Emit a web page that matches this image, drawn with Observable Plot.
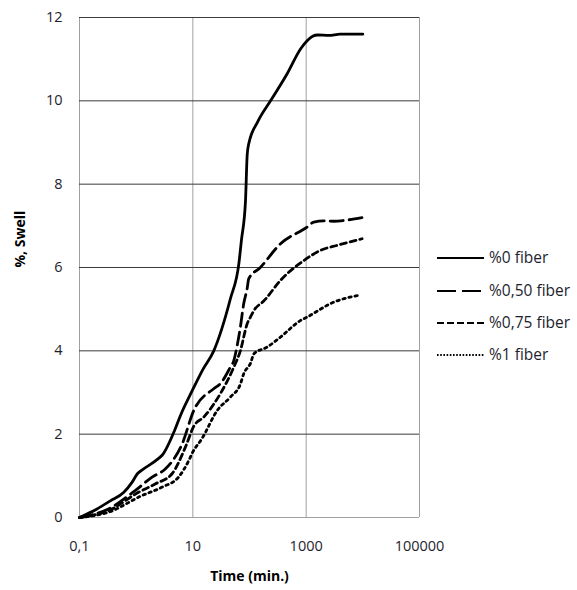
<!DOCTYPE html>
<html>
<head>
<meta charset="utf-8">
<script src="https://cdn.jsdelivr.net/npm/d3@7"></script>
<script src="https://cdn.jsdelivr.net/npm/@observablehq/plot@0.6"></script>
<style>
  body { margin: 0; background: #fff; }
  #wrap { position: relative; width: 577px; height: 590px; font-family: "Open Sans", sans-serif; }
  #legend { position: absolute; left: 0; top: 0; }
</style>
</head>
<body>
<div id="wrap"></div>
<script>
// ---- data ----
const seriesNames = ["%0 fiber", "%0,50 fiber", "%0,75 fiber", "%1 fiber"];

const time0  = [0.1, 0.2, 0.35, 0.6, 0.85, 1.05, 1.3, 2.4, 2.9, 4.8, 6.05, 9.8, 15, 23.4, 46, 65, 72, 85, 91, 97, 140, 235, 462, 800, 1050, 1300, 1600, 2500, 4000, 10000];
const swell0 = [0, 0.2, 0.4, 0.6, 0.85, 1.05, 1.15, 1.4, 1.5, 2.1, 2.45, 3.05, 3.55, 4.0, 5.25, 6.1, 6.65, 7.6, 8.7, 8.97, 9.5, 10.0, 10.65, 11.25, 11.45, 11.55, 11.58, 11.57, 11.6, 11.6];

const time50  = [0.1, 0.33, 0.97, 1.91, 3.3, 6.5, 10.4, 23.4, 30.5, 46, 53, 60, 69, 79, 91, 97, 155, 352, 1040, 1364, 2040, 3080, 5300, 10000];
const swell50 = [0, 0.21, 0.65, 0.97, 1.17, 1.77, 2.57, 3.09, 3.21, 3.61, 3.77, 4.1, 4.57, 5.13, 5.5, 5.73, 6.0, 6.57, 6.97, 7.09, 7.12, 7.11, 7.14, 7.2];

const time75  = [0.1, 0.33, 1.12, 2.2, 4.3, 7.4, 10.5, 15.6, 30.5, 53, 69, 91, 104, 120, 180, 352, 915, 1780, 3490, 9700];
const swell75 = [0, 0.17, 0.61, 0.81, 1.05, 1.69, 2.2, 2.41, 2.97, 3.61, 4.0, 4.65, 4.81, 4.97, 5.2, 5.69, 6.17, 6.41, 6.53, 6.69];

const time100  = [0.1, 0.33, 1.28, 2.88, 5.6, 8.5, 9.8, 14.6, 27, 46, 69, 79, 104, 120, 205, 352, 800, 1040, 3080, 8300];
const swell100 = [0, 0.13, 0.53, 0.73, 0.97, 1.37, 1.55, 1.9, 2.57, 2.89, 3.2, 3.45, 3.7, 3.93, 4.09, 4.33, 4.73, 4.81, 5.17, 5.33];

const xTicks = [0.1, 10, 1000, 100000];
const xTickLabels = ["0,1", "10", "1000", "100000"];
const yTicks = [0, 2, 4, 6, 8, 10, 12];

const xLabel = "Time (min.)";
const yLabel = "%, Swell";

// ---- build ----
const times = [time0, time50, time75, time100];
const swells = [swell0, swell50, swell75, swell100];
const dashes = [null, "13,6", "6,4", "2.4,3.8"];
const rows = [];
seriesNames.forEach((s, i) => times[i].forEach((t, j) => rows.push({series: s, t, v: swells[i][j]})));

const W = 577, H = 590;
const chart = Plot.plot({
  width: W, height: H,
  marginLeft: 79, marginRight: 158, marginTop: 17, marginBottom: 73,
  style: {fontFamily: "Open Sans, sans-serif", fontSize: "14px", color: "#1e1e2e", background: "#fff"},
  x: {type: "log", domain: [0.1, 100000]},
  y: {domain: [0, 12]},
  marks: [
    Plot.ruleX(xTicks, {stroke: "#a0a0a0", strokeWidth: 1}),
    Plot.ruleY(yTicks.filter(d => d > 0), {stroke: "#3a3a3a", strokeWidth: 1}),
    Plot.ruleY([0], {stroke: "#a0a0a0", strokeWidth: 1}),
    Plot.axisX({ticks: xTicks, tickFormat: (d, i) => xTickLabels[xTicks.indexOf(d)], tickSize: 0, tickPadding: 23, label: null, fontSize: 14.5}),
    Plot.axisY({ticks: yTicks, tickSize: 0, tickPadding: 17, label: null, fontSize: 14.5}),
    ...seriesNames.map((s, i) =>
      Plot.line(rows.filter(r => r.series === s), {
        x: "t", y: "v", stroke: "#000", strokeWidth: 2.8,
        strokeDasharray: dashes[i], curve: "monotone-x"
      })
    ),
    Plot.text([xLabel], {frameAnchor: "bottom", dy: 63, fontWeight: "bold", fontSize: 14, fill: "#000"}),
    Plot.text([yLabel], {frameAnchor: "left", dx: -59, rotate: -90, fontWeight: "bold", fontSize: 14, fill: "#000"})
  ]
});
const wrap = document.getElementById("wrap");
wrap.appendChild(chart);

// ---- legend ----
const legend = d3.select(wrap).append("svg").attr("id", "legend")
  .attr("width", W).attr("height", H).style("pointer-events", "none");
const legY = [258, 291, 323, 355];
const item = legend.selectAll("g").data(seriesNames).join("g")
  .attr("transform", (d, i) => `translate(0,${legY[i]})`);
item.append("line").attr("x1", 437).attr("x2", 484).attr("y1", 0).attr("y2", 0)
  .attr("stroke", "#000").attr("stroke-width", 2)
  .attr("stroke-dasharray", (d, i) => ["none", "19,6", "7,3", "1.6,1.6"][i]);
item.append("text").attr("x", 489).attr("y", 0).attr("dy", "0.35em")
  .attr("font-family", "Open Sans, sans-serif").attr("font-size", 15.5).attr("fill", "#1e1e2e")
  .text(d => d);
</script>
</body>
</html>
